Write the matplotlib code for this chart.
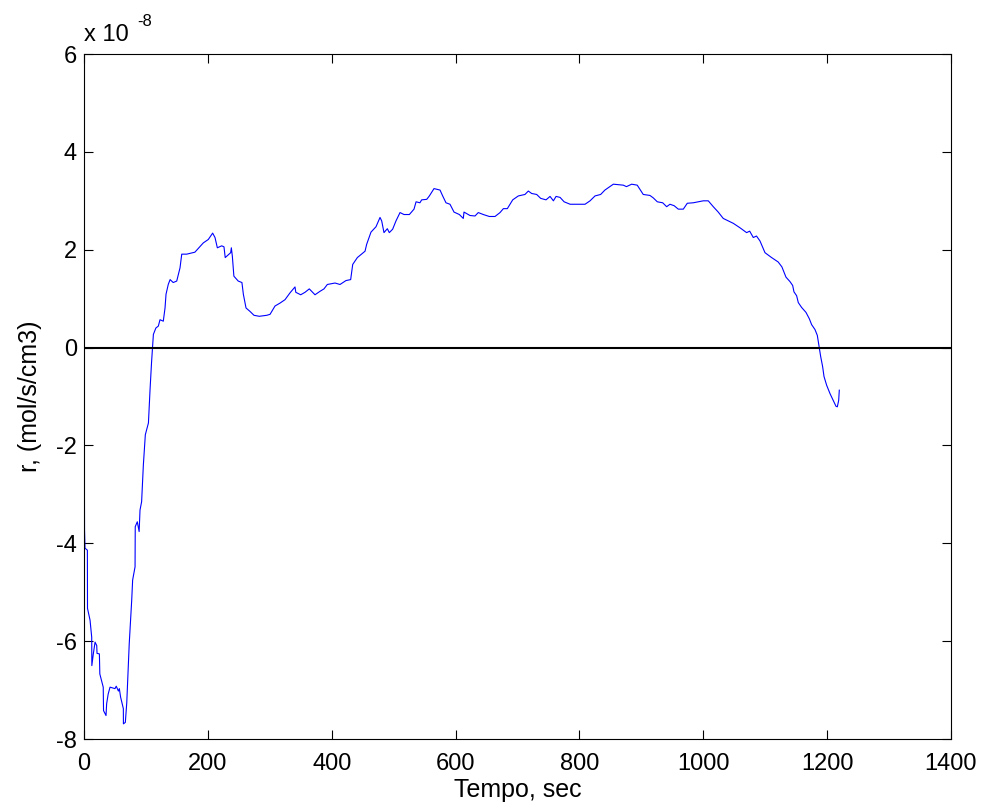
import numpy as np
import matplotlib
matplotlib.use('Agg')
import matplotlib.pyplot as plt

plt.rcParams['font.family'] = ['Liberation Sans', 'DejaVu Sans']

# dati (tempo in s, r in unita' di 1e-8 mol/s/cm3)
tempo = [0, 0.8, 1.6, 5.4, 5.6, 9.7, 12.4, 12.6, 15, 17.8, 20.5, 21, 24.8, 25.5,
         31, 31.5, 35.5, 36.5, 39, 42, 50, 52, 55.5, 57, 59, 63.5, 63.6, 66.7,
         69, 73, 77, 78.5, 82.4, 82.7, 86, 89, 90.4, 93, 95.8, 99, 104, 106.6,
         109, 112, 116, 120, 122.7, 128, 130.8, 132.4, 136, 139, 144, 149.7,
         155, 157.8, 165.8, 179, 192.6, 200.7, 207.7, 211.5, 215.3, 222.3, 226,
         228, 236.8, 237.9, 239.5, 242, 249, 255, 257.3, 261.6, 268, 274.5,
         283, 295, 300.4, 308.4, 316.5, 324.6, 332.7, 340.7, 342, 349.9, 356.8,
         363.8, 373, 381, 387.5, 392.9, 405.3, 413.4, 423, 430.6, 433.9, 441.4,
         453.8, 456.4, 463.4, 471.5, 478, 480.7, 484.4, 489.8, 493, 498.4,
         503.8, 510.3, 516.7, 525.4, 532.9, 536.2, 542.4, 545.3, 553.4, 557.7,
         565.2, 574.9, 579.2, 584.5, 591, 597.5, 606.1, 612.5, 613.6, 623.3,
         631.4, 636.7, 644.8, 654.5, 663.7, 671.8, 677.2, 683.6, 689, 692.3,
         701.4, 712.1, 717.5, 722.9, 731, 737.5, 746.1, 752.6, 758, 762.3,
         768.8, 775.3, 785, 809.1, 817.2, 825.2, 834.3, 841.2, 854.8, 870.9,
         876, 884.4, 893.4, 903.1, 913.9, 919.3, 925.8, 934.5, 940.9, 946.3,
         953, 959.7, 967.8, 974.2, 983.9, 992, 1000, 1008.1, 1016.2, 1024.2,
         1032.3, 1048.5, 1059.2, 1070, 1075, 1080.8, 1086, 1091.6, 1099.7,
         1110.4, 1118.5, 1121, 1127, 1130.4, 1133.6, 1140, 1144.4, 1146.5,
         1150.8, 1153.5, 1158.9, 1165.9, 1171.3, 1175, 1180.4, 1184.2, 1187.4,
         1189.6, 1192.8, 1195, 1199.3, 1204.7, 1210, 1214.4, 1216.5, 1218.7,
         1219.7]
r_e8 = [0.1, -3.73, -4.1, -4.14, -5.33, -5.57, -5.92, -6.5, -6.26, -6.02, -6.09,
        -6.25, -6.26, -6.67, -6.94, -7.42, -7.52, -7.28, -7.08, -6.94, -6.97,
        -6.92, -7.02, -6.97, -7.14, -7.38, -7.69, -7.66, -7.26, -6.05, -5.16,
        -4.75, -4.48, -3.66, -3.56, -3.76, -3.32, -3.15, -2.4, -1.78, -1.54,
        -0.86, -0.31, 0.27, 0.40, 0.44, 0.57, 0.54, 0.81, 1.09, 1.29, 1.39,
        1.33, 1.36, 1.63, 1.91, 1.91, 1.95, 2.14, 2.21, 2.34, 2.25, 2.04, 2.08,
        2.06, 1.84, 1.94, 2.04, 1.87, 1.46, 1.36, 1.33, 1.09, 0.81, 0.74, 0.66,
        0.64, 0.66, 0.68, 0.85, 0.91, 0.98, 1.12, 1.24, 1.13, 1.08, 1.13, 1.2,
        1.08, 1.15, 1.2, 1.29, 1.32, 1.29, 1.37, 1.39, 1.70, 1.84, 1.97, 2.11,
        2.36, 2.47, 2.66, 2.59, 2.35, 2.43, 2.35, 2.42, 2.59, 2.76, 2.72, 2.72,
        2.83, 2.98, 2.96, 3.02, 3.03, 3.10, 3.25, 3.22, 3.10, 2.96, 2.93, 2.77,
        2.72, 2.64, 2.77, 2.70, 2.69, 2.76, 2.72, 2.68, 2.68, 2.76, 2.84, 2.84,
        2.95, 3.02, 3.10, 3.13, 3.20, 3.15, 3.13, 3.05, 3.02, 3.09, 3.00, 3.09,
        3.07, 2.98, 2.93, 2.93, 3.00, 3.10, 3.13, 3.22, 3.34, 3.32, 3.29, 3.34,
        3.32, 3.13, 3.11, 3.06, 2.98, 2.96, 2.88, 2.93, 2.90, 2.83, 2.83, 2.95,
        2.96, 2.98, 3.00, 3.00, 2.88, 2.77, 2.64, 2.54, 2.45, 2.35, 2.38, 2.25,
        2.28, 2.18, 1.94, 1.84, 1.77, 1.75, 1.65, 1.54, 1.44, 1.35, 1.27, 1.14,
        1.06, 0.92, 0.82, 0.72, 0.59, 0.47, 0.37, 0.25, 0.0, -0.18, -0.39,
        -0.59, -0.77, -0.94, -1.08, -1.2, -1.21, -1.08, -0.87]

xticks = [0, 200, 400, 600, 800, 1000, 1200, 1400]
yticks = [-8, -6, -4, -2, 0, 2, 4, 6]

fig = plt.figure(figsize=(9.84, 8.09), dpi=100)
ax = fig.add_axes([0.0854, 0.0865, 0.881, 0.8467])

ax.plot(tempo, np.array(r_e8) * 1e-8, color='#0000ff', linewidth=0.8)
ax.axhline(0, color='k', linewidth=1.5)

ax.set_xlim(0, 1400)
ax.set_ylim(-8e-8, 6e-8)
ax.set_xticks(xticks)
ax.set_xticklabels([str(v) for v in xticks])
ax.set_yticks(np.array(yticks) * 1e-8)
ax.set_yticklabels([str(v) for v in yticks])

ax.tick_params(direction='in', length=6.5, width=0.8, top=True, right=True,
               labelsize=17)
ax.tick_params(axis='x', pad=10)
ax.tick_params(axis='y', pad=5)
for sp in ax.spines.values():
    sp.set_linewidth(0.8)

ax.set_xlabel('Tempo, sec', fontsize=18, labelpad=2)
ax.set_ylabel('r, (mol/s/cm3)', fontsize=18, labelpad=10)

ax.text(0.0, 1.012, 'x 10', transform=ax.transAxes, fontsize=17,
        ha='left', va='bottom')
ax.text(0.061, 1.036, '-8', transform=ax.transAxes, fontsize=12,
        ha='left', va='bottom')

plt.savefig('out.png', dpi=100)
